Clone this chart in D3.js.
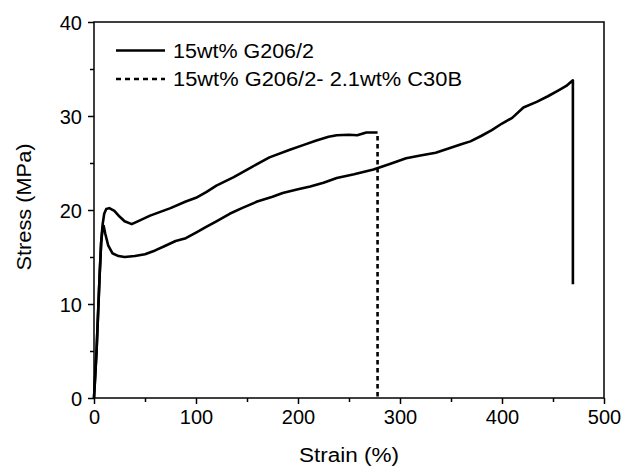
<!DOCTYPE html>
<html>
<head>
<meta charset="utf-8">
<script src="https://cdn.jsdelivr.net/npm/d3@7"></script>
<style>
  body { margin: 0; background: #fff; }
  text { font-family: "Liberation Sans", Arial, sans-serif; fill: #000; }
</style>
</head>
<body>
<div id="chart"></div>
<script>
// series: 15wt% G206/2 (solid)
const strainA = [0, 1, 2.5, 4, 5.5, 7, 8.5, 9.5, 11, 14, 18, 24, 30, 40, 50, 60, 70, 80, 90, 100,
  110, 120, 133, 145, 160, 175, 185, 200, 212, 225, 238, 255, 274, 290, 306, 320, 335, 349, 360,
  369, 380, 390, 400, 410, 421, 434, 445, 455, 463, 469.5, 469.5];
const stressA = [0, 2, 5, 9, 13, 16.5, 18.2, 18.3, 17.5, 16.2, 15.4, 15.1, 15.0, 15.1, 15.3, 15.7,
  16.2, 16.7, 17.0, 17.6, 18.2, 18.8, 19.6, 20.2, 20.9, 21.4, 21.8, 22.2, 22.5, 22.9, 23.4, 23.8,
  24.3, 24.9, 25.5, 25.8, 26.1, 26.6, 27.0, 27.3, 27.9, 28.5, 29.2, 29.8, 30.9, 31.5, 32.1, 32.7,
  33.2, 33.8, 12.1];

// series: 15wt% G206/2- 2.1wt% C30B (dashed)
const strainB = [0, 1, 2.5, 4, 5.5, 7, 8.5, 10, 12, 15, 20, 25, 30, 37, 45, 55, 65, 75, 90, 100,
  110, 120, 137, 155, 172, 192, 205, 218, 230, 238, 250, 258, 267, 278, 278];
const stressB = [0, 2, 5, 9, 13, 16.5, 18.5, 19.6, 20.1, 20.2, 19.9, 19.3, 18.8, 18.5, 18.9, 19.4,
  19.8, 20.2, 20.9, 21.3, 21.9, 22.6, 23.5, 24.6, 25.6, 26.4, 26.9, 27.4, 27.8, 27.95, 28.0, 27.95,
  28.25, 28.25, 0];

const legendLabels = ["15wt% G206/2", "15wt% G206/2- 2.1wt% C30B"];
const xTicks = [0, 100, 200, 300, 400, 500];
const yTicks = [0, 10, 20, 30, 40];

const W = 623, H = 469;
const margin = {top: 22, right: 19, bottom: 71, left: 94};
const width = W - margin.left - margin.right,
  height = H - margin.top - margin.bottom;

const svg = d3.select("#chart").append("svg")
  .attr("width", W).attr("height", H)
  .append("g")
  .attr("transform", `translate(${margin.left},${margin.top})`);

const x = d3.scaleLinear().domain([0, 500]).range([0, width]);
const y = d3.scaleLinear().domain([0, 40]).range([height, 0]);

// minor ticks
svg.append("g")
  .attr("transform", `translate(0,${height})`)
  .call(d3.axisBottom(x).tickValues(d3.range(50, 500, 100)).tickSize(4).tickFormat(""))
  .call(g => g.select(".domain").remove());
svg.append("g")
  .call(d3.axisLeft(y).tickValues(d3.range(5, 40, 10)).tickSize(4).tickFormat(""))
  .call(g => g.select(".domain").remove());

// major axes
const xAxis = svg.append("g")
  .attr("transform", `translate(0,${height})`)
  .call(d3.axisBottom(x).tickValues(xTicks).tickSize(6).tickSizeOuter(0).tickPadding(5));
const yAxis = svg.append("g")
  .call(d3.axisLeft(y).tickValues(yTicks).tickSize(6).tickSizeOuter(0).tickPadding(6));

svg.selectAll(".tick line").attr("stroke", "#000").attr("stroke-width", 1.5);
svg.selectAll(".tick text").style("font-size", "20px");
xAxis.selectAll(".tick text").attr("dy", "0.75em");
yAxis.selectAll(".tick text").attr("dy", "0.36em");

// frame
svg.append("rect")
  .attr("width", width).attr("height", height)
  .attr("fill", "none").attr("stroke", "#000").attr("stroke-width", 1.5);
svg.selectAll(".domain").remove();

const line = d3.line()
  .x(d => x(d[0]))
  .y(d => y(d[1]));

svg.append("path")
  .datum(strainA.map((s, i) => [s, stressA[i]]))
  .attr("d", line)
  .attr("fill", "none").attr("stroke", "#000").attr("stroke-width", 2.6)
  .attr("stroke-linejoin", "round");

svg.append("path")
  .datum(strainB.map((s, i) => [s, stressB[i]]))
  .attr("d", line)
  .attr("fill", "none").attr("stroke", "#000").attr("stroke-width", 2.6)
  .attr("stroke-linejoin", "round")
  .attr("stroke-dasharray", function() {
    // solid curve, dashed break-off at the end
    const len = this.getTotalLength();
    const drop = y(0) - y(28.25);
    const solid = len - drop;
    let arr = [solid];
    let rest = drop, on = false;
    while (rest > 0) { arr.push(on ? 4.5 : 3.5); rest -= on ? 4.5 : 3.5; on = !on; }
    return arr.join(",");
  });

// legend
const legendWidths = [141, 289];
const legend = svg.append("g");
legendLabels.forEach((lab, i) => {
  const ly = 28.5 + i * 28.5;
  legend.append("line")
    .attr("x1", 22).attr("x2", 71).attr("y1", ly).attr("y2", ly)
    .attr("stroke", "#000").attr("stroke-width", 2.6)
    .attr("stroke-dasharray", i === 1 ? "5,4" : null);
  legend.append("text")
    .attr("x", 79).attr("y", ly + 7)
    .attr("textLength", legendWidths[i]).attr("lengthAdjust", "spacingAndGlyphs")
    .style("font-size", "20px")
    .text(lab);
});

// axis titles
svg.append("text")
  .attr("x", width / 2).attr("y", height + 64)
  .attr("text-anchor", "middle")
  .attr("textLength", 100).attr("lengthAdjust", "spacingAndGlyphs")
  .style("font-size", "20px")
  .text("Strain (%)");
svg.append("text")
  .attr("transform", `translate(-63,${height / 2 - 3}) rotate(-90)`)
  .attr("text-anchor", "middle")
  .attr("textLength", 127).attr("lengthAdjust", "spacingAndGlyphs")
  .style("font-size", "20px")
  .text("Stress (MPa)");
</script>
</body>
</html>
